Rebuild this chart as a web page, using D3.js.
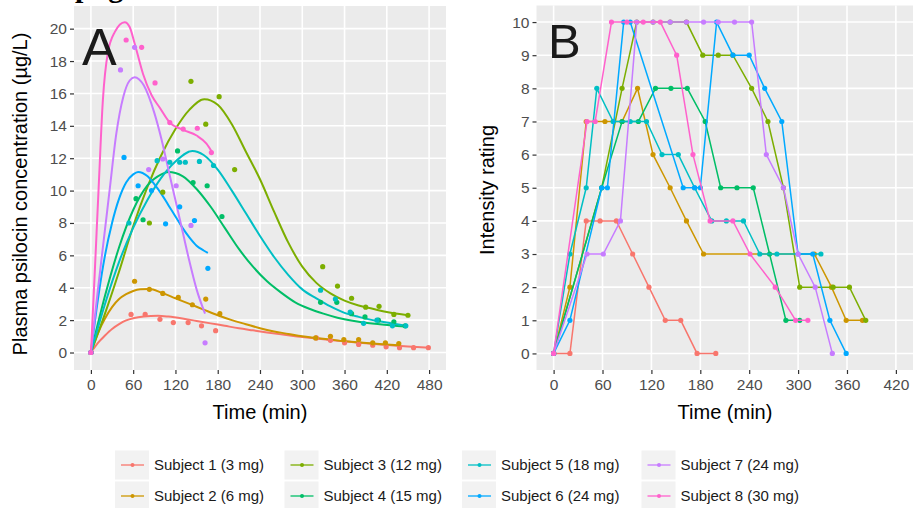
<!DOCTYPE html>
<html lang="en">
<head>
  <meta charset="UTF-8" />
  <title>Psilocin concentration and intensity rating</title>
  <script src="https://cdn.jsdelivr.net/npm/d3@7"></script>
  <style>
    body {
      margin: 0;
      background: #fff;
      font-family: "Liberation Sans", Arial, sans-serif;
    }
  </style>
</head>
<body>
  <svg id="chart" width="913" height="508"></svg>

  <script>
    const FONT = '"Liberation Sans", Arial, sans-serif';

    const subjects = [
      "Subject 1 (3 mg)", "Subject 2 (6 mg)", "Subject 3 (12 mg)", "Subject 4 (15 mg)",
      "Subject 5 (18 mg)", "Subject 6 (24 mg)", "Subject 7 (24 mg)", "Subject 8 (30 mg)"
    ];
    const colors = ["#F8766D", "#CD9600", "#7CAE00", "#00BE67", "#00BFC4", "#00A9FF", "#C77CFF", "#FF61CC"];

    const timeTicksA = [0, 60, 120, 180, 240, 300, 360, 420, 480];
    const concTicks = [0, 2, 4, 6, 8, 10, 12, 14, 16, 18, 20];
    const timeTicksB = [0, 60, 120, 180, 240, 300, 360, 420];
    const ratingTicks = [0, 1, 2, 3, 4, 5, 6, 7, 8, 9, 10];

    // panel A: measured plasma psilocin [time, µg/L]
    const conc1 = [[0,0],[57,2.35],[77,2.35],[98,2.05],[117,1.85],[138,1.85],[157,1.65],[177,1.35],[320,0.9],[340,0.75],[360,0.6],[380,0.5],[400,0.45],[419,0.35],[438,0.3],[458,0.3],[479,0.3]];
    const conc2 = [[0,0],[62,4.4],[83,3.9],[102,3.65],[124,3.4],[144,2.95],[163,3.3],[183,2.4],[319,0.9],[340,1.0],[359,0.8],[380,0.8],[400,0.6],[418,0.6],[437,0.55]];
    const conc3 = [[0,0],[83,8.0],[102,9.9],[142,16.75],[163,14.1],[182,15.8],[204,11.3],[329,5.3],[350,4.1],[370,3.35],[390,2.8],[409,2.85],[430,2.35],[450,2.3]];
    const conc4 = [[0,0],[64,9.5],[74,8.2],[123,12.45],[145,10.5],[165,10.3],[186,8.4],[326,3.1],[349,3.1],[370,2.4],[389,2.2],[408,2.0],[430,1.9],[446,1.65]];
    const conc5 = [[0,0],[54,8.0],[94,11.85],[112,11.75],[126,11.75],[134,11.75],[154,11.8],[174,11.55],[326,3.85],[347,3.3],[368,2.5],[387,1.8],[406,2.0],[428,1.65],[447,1.65]];
    const conc6 = [[0,0],[47,12.05],[67,10.3],[86,10.0],[106,7.95],[126,9.0],[147,8.15],[166,5.2]];
    const conc7 = [[0,0],[42,17.45],[62,18.85],[82,11.3],[102,11.95],[121,10.3],[142,7.85],[162,0.6]];
    const conc8 = [[0,0],[50,19.3],[72,18.85],[91,16.65],[112,14.2],[131,13.8],[151,13.85],[171,12.35]];

    // panel A: fitted curves
    const fit1 = [[0,0],[10,0.6],[20,1.05],[30,1.45],[40,1.75],[50,1.98],[60,2.12],[75,2.23],[95,2.27],[110,2.22],[130,2.1],[150,1.95],[170,1.8],[190,1.65],[210,1.5],[230,1.37],[250,1.24],[270,1.12],[290,1.01],[310,0.91],[330,0.82],[350,0.73],[370,0.65],[390,0.57],[410,0.5],[430,0.43],[450,0.37],[480,0.3]];
    const fit2 = [[0,0],[10,1.2],[20,2.1],[30,2.8],[40,3.3],[50,3.6],[60,3.8],[70,3.9],[83,3.92],[100,3.7],[120,3.35],[140,3.0],[160,2.65],[180,2.3],[200,2.0],[220,1.75],[240,1.5],[260,1.3],[280,1.15],[300,1.0],[320,0.9],[340,0.8],[360,0.7],[380,0.63],[400,0.56],[420,0.5],[437,0.45]];
    const fit3 = [[0,0],[20,2.4],[40,5.0],[60,7.8],[80,10.2],[100,12.2],[120,13.8],[140,15.0],[161,15.64],[180,15.3],[200,14.1],[220,12.4],[240,10.7],[260,8.7],[280,6.8],[300,5.3],[320,4.3],[340,3.65],[360,3.2],[380,2.9],[400,2.7],[420,2.5],[450,2.3]];
    const fit4 = [[0,0],[20,3.5],[40,6.5],[60,8.8],[80,10.3],[100,11.0],[110,11.15],[130,10.9],[150,10.1],[170,9.0],[190,7.7],[210,6.4],[230,5.3],[250,4.4],[270,3.7],[290,3.1],[310,2.7],[330,2.4],[350,2.15],[380,1.9],[410,1.75],[446,1.6]];
    const fit5 = [[0,0],[20,3.0],[40,5.6],[60,7.7],[80,9.4],[100,10.8],[120,11.8],[144,12.45],[160,12.2],[180,11.3],[200,10.0],[220,8.6],[240,7.2],[260,5.9],[280,4.8],[300,3.9],[320,3.35],[340,2.85],[360,2.45],[380,2.2],[400,2.0],[420,1.85],[447,1.65]];
    const fit6 = [[0,0],[10,3.3],[20,6.0],[30,8.0],[40,9.5],[50,10.5],[60,11.0],[67,11.15],[80,10.9],[90,10.4],[100,9.8],[110,9.1],[120,8.4],[130,7.7],[140,7.1],[150,6.6],[160,6.3],[166,6.15]];
    const fit7 = [[0,0],[10,3.9],[20,7.6],[27,10.2],[36,13.5],[46,15.8],[55,16.8],[62,17.0],[75,16.5],[90,14.8],[100,13.2],[110,11.3],[120,9.4],[130,7.5],[140,5.6],[150,3.9],[162,2.4]];
    const fit8 = [[0,0],[5,4.5],[11,10.2],[17,15.6],[24,18.5],[34,19.8],[48,20.4],[55,20.1],[62,19.1],[74,17.2],[86,15.9],[98,15.1],[112,14.2],[131,13.75],[150,13.4],[164,12.9],[173,12.3]];

    // panel B: intensity ratings [time, rating]
    const rating1 = [[0,0],[20,0],[40,4],[57,4],[77,4],[97,3],[117,2],[137,1],[156,1],[176,0],[199,0]];
    const rating2 = [[0,0],[20,2],[40,7],[63,7],[84,7],[103,8],[122,6],[143,5],[163,4],[184,3],[320,3],[341,2],[359,1],[379,1]];
    const rating3 = [[0,0],[59,5],[84,8],[102,10],[122,10],[143,10],[163,10],[183,9],[202,9],[220,9],[243,8],[263,7],[282,5],[302,2],[343,2],[363,2],[383,1]];
    const rating4 = [[0,0],[59,5],[84,7],[104,7],[125,8],[144,8],[164,8],[186,7],[205,5],[225,5],[245,5],[265,3],[285,1],[302,1]];
    const rating5 = [[0,0],[20,3],[40,5],[53,8],[73,7],[94,7],[114,7],[133,6],[153,6],[173,5],[194,4],[212,4],[233,4],[253,3],[274,3],[328,3]];
    const rating6 = [[0,0],[20,1],[59,5],[66,5],[86,10],[94,10],[159,5],[173,5],[180,5],[200,10],[220,9],[240,9],[259,8],[280,7],[300,3],[318,3],[339,1],[359,0]];
    const rating7 = [[0,0],[41,3],[61,3],[82,4],[102,10],[122,10],[143,10],[163,10],[184,10],[202,10],[222,10],[243,10],[261,6],[282,5],[300,3],[321,2],[342,0]];
    const rating8 = [[0,0],[41,7],[51,7],[71,10],[90,10],[110,10],[131,10],[151,9],[171,6],[192,4],[220,4],[241,3],[272,2],[297,1],[312,1]];

    const concObs = [conc1, conc2, conc3, conc4, conc5, conc6, conc7, conc8];
    const concFit = [fit1, fit2, fit3, fit4, fit5, fit6, fit7, fit8];
    const ratings = [rating1, rating2, rating3, rating4, rating5, rating6, rating7, rating8];

    const svg = d3.select("#chart");

    const xA = d3.scaleLinear().domain([-24, 504]).range([74, 446]);
    const yA = d3.scaleLinear().domain([-1.08, 21.4]).range([370, 6]);
    const xB = d3.scaleLinear().domain([-21, 441]).range([536.5, 913]);
    const yB = d3.scaleLinear().domain([-0.5, 10.5]).range([370, 5.5]);

    function panel(x, y, xticks, yticks) {
      const [x0, x1] = x.range();
      const [y1, y0] = y.range();
      const g = svg.append("g");
      g.append("rect")
        .attr("x", x0).attr("y", y0)
        .attr("width", x1 - x0).attr("height", y1 - y0)
        .attr("fill", "#ebebeb");
      g.selectAll(".vgrid").data(xticks).join("line")
        .attr("x1", d => x(d)).attr("x2", d => x(d))
        .attr("y1", y0).attr("y2", y1)
        .attr("stroke", "#fff").attr("stroke-width", 1.6);
      g.selectAll(".hgrid").data(yticks).join("line")
        .attr("x1", x0).attr("x2", x1)
        .attr("y1", d => y(d)).attr("y2", d => y(d))
        .attr("stroke", "#fff").attr("stroke-width", 1.6);

      const ax = g.append("g")
        .attr("transform", `translate(0,${y1})`)
        .call(d3.axisBottom(x).tickValues(xticks).tickSize(4).tickPadding(5));
      const ay = g.append("g")
        .attr("transform", `translate(${x0},0)`)
        .call(d3.axisLeft(y).tickValues(yticks).tickSize(4).tickPadding(3));
      [ax, ay].forEach(a => {
        a.attr("font-size", 15.5).attr("font-family", FONT);
        a.select(".domain").remove();
        a.selectAll("line").attr("stroke", "#333").attr("stroke-width", 1.2);
        a.selectAll("text").attr("fill", "#4d4d4d");
      });
      return g;
    }

    // ---- panel A
    const gA = panel(xA, yA, timeTicksA, concTicks);
    const fitLine = d3.line()
      .x(d => xA(d[0])).y(d => yA(d[1]))
      .curve(d3.curveMonotoneX);

    concFit.forEach((f, i) => {
      gA.append("path")
        .datum(f)
        .attr("d", fitLine)
        .attr("fill", "none")
        .attr("stroke", colors[i])
        .attr("stroke-width", 2);
    });
    concObs.forEach((pts, i) => {
      gA.append("g").selectAll("circle").data(pts).join("circle")
        .attr("cx", d => xA(d[0])).attr("cy", d => yA(d[1]))
        .attr("r", 2.6)
        .attr("fill", colors[i]);
    });

    // ---- panel B
    const gB = panel(xB, yB, timeTicksB, ratingTicks);
    const stepLine = d3.line().x(d => xB(d[0])).y(d => yB(d[1]));

    ratings.forEach((r, i) => {
      gB.append("path")
        .datum(r)
        .attr("d", stepLine)
        .attr("fill", "none")
        .attr("stroke", colors[i])
        .attr("stroke-width", 1.5);
      gB.append("g").selectAll("circle").data(r).join("circle")
        .attr("cx", d => xB(d[0])).attr("cy", d => yB(d[1]))
        .attr("r", 2.6)
        .attr("fill", colors[i]);
    });

    // panel letters
    svg.append("text").attr("x", 82).attr("y", 65)
      .attr("font-family", FONT).attr("font-size", 52).attr("fill", "#1a1a1a").text("A");
    svg.append("text").attr("x", 548).attr("y", 58)
      .attr("font-family", FONT).attr("font-size", 49).attr("fill", "#1a1a1a").text("B");

    // axis titles
    const title = (x, y, txt, rot) => {
      const t = svg.append("text")
        .attr("font-family", FONT).attr("font-size", 20)
        .attr("fill", "#000").attr("text-anchor", "middle")
        .text(txt);
      if (rot) t.attr("transform", `translate(${x},${y}) rotate(-90)`);
      else t.attr("x", x).attr("y", y);
    };
    title(260, 419, "Time (min)");
    title(725, 419, "Time (min)");
    title(27, 194, "Plasma psilocin concentration (\u00b5g/L)", true);
    title(494, 190, "Intensity rating", true);

    // legend
    const legendTextX = [154, 323.5, 501, 680.5];
    const legendRowY = [465, 496];
    const legend = svg.append("g");
    subjects.forEach((s, i) => {
      const tx = legendTextX[Math.floor(i / 2)];
      const cy = legendRowY[i % 2];
      const k = legend.append("g");
      k.append("rect")
        .attr("x", tx - 39).attr("y", cy - 14.5)
        .attr("width", 34).attr("height", 29)
        .attr("fill", "#f2f2f2");
      k.append("line")
        .attr("x1", tx - 33).attr("x2", tx - 10)
        .attr("y1", cy).attr("y2", cy)
        .attr("stroke", colors[i]).attr("stroke-width", 1.3);
      k.append("circle").attr("cx", tx - 21.5).attr("cy", cy).attr("r", 2)
        .attr("fill", colors[i]);
      k.append("text")
        .attr("x", tx).attr("y", cy).attr("dy", "0.35em")
        .attr("font-family", FONT).attr("font-size", 15).attr("fill", "#1a1a1a")
        .text(s);
    });

    // caption from the page above, cut off at the top edge as in the source
    svg.append("text").attr("x", 75).attr("y", -3)
      .attr("font-family", '"Liberation Serif", serif').attr("font-weight", "bold")
      .attr("font-size", 30).attr("fill", "#000").text("png");
  </script>
</body>
</html>
